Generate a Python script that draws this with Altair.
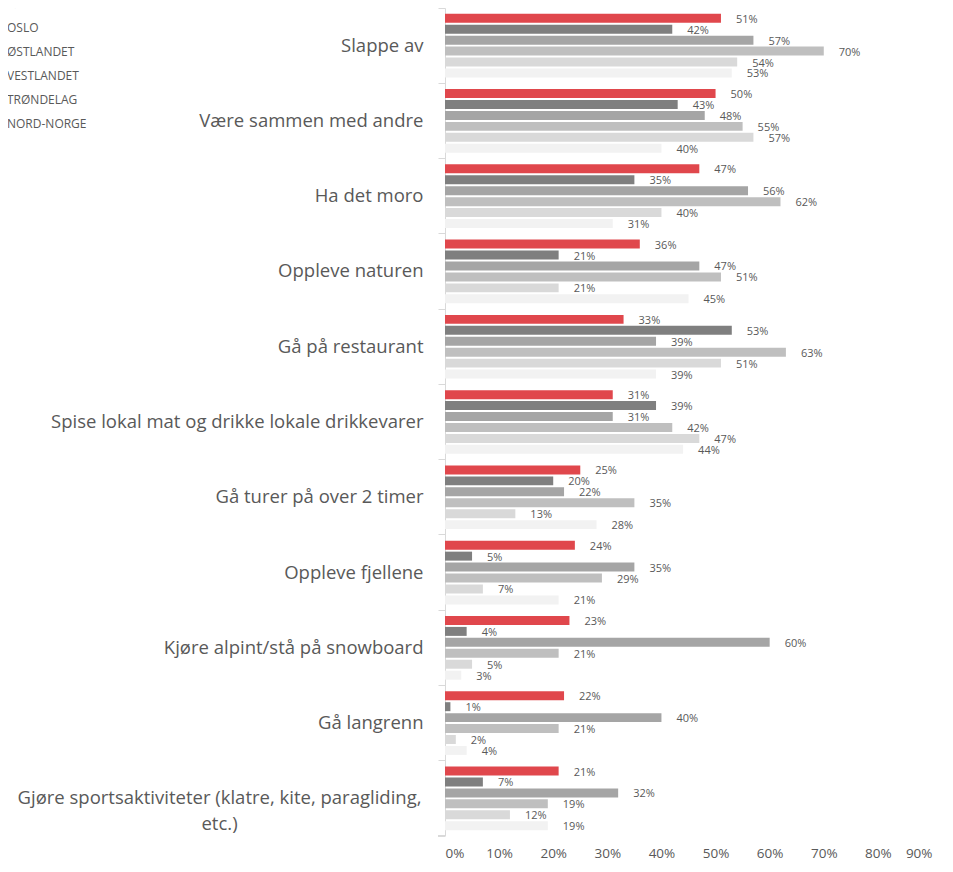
import altair as alt
import pandas as pd

categories = [
    "Slappe av",
    "Være sammen med andre",
    "Ha det moro",
    "Oppleve naturen",
    "Gå på restaurant",
    "Spise lokal mat og drikke lokale drikkevarer",
    "Gå turer på over 2 timer",
    "Oppleve fjellene",
    "Kjøre alpint/stå på snowboard",
    "Gå langrenn",
    "Gjøre sportsaktiviteter (klatre, kite, paragliding, etc.)",
]
series = ["SØRLANDET", "OSLO", "ØSTLANDET", "VESTLANDET", "TRØNDELAG", "NORD-NORGE"]
colors = ["#E0474C", "#7F7F7F", "#A5A5A5", "#BFBFBF", "#D9D9D9", "#F2F2F2"]

sorlandet = [51, 50, 47, 36, 33, 31, 25, 24, 23, 22, 21]
oslo = [42, 43, 35, 21, 53, 39, 20, 5, 4, 1, 7]
ostlandet = [57, 48, 56, 47, 39, 31, 22, 35, 60, 40, 32]
vestlandet = [70, 55, 62, 51, 63, 42, 35, 29, 21, 21, 19]
trondelag = [54, 57, 40, 21, 51, 47, 13, 7, 5, 2, 12]
nord_norge = [53, 40, 31, 45, 39, 44, 28, 21, 3, 4, 19]

values = [sorlandet, oslo, ostlandet, vestlandet, trondelag, nord_norge]
rows = []
for s, vals in zip(series, values):
    for c, v in zip(categories, vals):
        rows.append({"kategori": c, "region": s, "andel": v / 100})
df = pd.DataFrame(rows)

W = 487
H = 828
FONT = "Open Sans"
TXT = "#595959"
AXC = "#D9D9D9"
long_label = categories[-1]

y_enc = alt.Y(
    "kategori:N",
    sort=categories,
    scale=alt.Scale(paddingInner=0, paddingOuter=0),
    axis=alt.Axis(
        title=None,
        grid=False,
        domainColor=AXC,
        tickColor=AXC,
        tickSize=7,
        bandPosition=0,
        labelFont=FONT,
        labelFontSize=18.5,
        labelColor=TXT,
        labelLimit=600,
        labelLineHeight=26,
        labelExpr=(
            "datum.label == '" + long_label + "' ? "
            "['Gjøre sportsaktiviteter (klatre, kite, paragliding,', 'etc.)'] : datum.label"
        ),
        labelAlign={
            "condition": {"test": "datum.value == '" + long_label + "'", "value": "center"},
            "value": "right",
        },
        labelPadding={
            "condition": {"test": "datum.value == '" + long_label + "'", "value": 219},
            "value": 15,
        },
    ),
)
yoff_enc = alt.YOffset(
    "region:N",
    sort=series,
    scale=alt.Scale(paddingInner=0.18, paddingOuter=0.53),
)
x_enc = alt.X(
    "andel:Q",
    scale=alt.Scale(domain=[0, 0.9], nice=False),
    axis=alt.Axis(
        title=None,
        format=".0%",
        values=[0, 0.1, 0.2, 0.3, 0.4, 0.5, 0.6, 0.7, 0.8, 0.9],
        domain=False,
        ticks=False,
        grid=False,
        labelFont=FONT,
        labelFontSize=13.5,
        labelColor=TXT,
        labelPadding=10,
    ),
)

base = alt.Chart(df)

bars = base.mark_bar().encode(
    y=y_enc,
    yOffset=yoff_enc,
    x=x_enc,
    color=alt.Color(
        "region:N",
        sort=series,
        scale=alt.Scale(domain=series, range=colors),
        legend=alt.Legend(
            title=None,
            orient="none",
            legendX=-456,
            legendY=-10,
            direction="vertical",
            symbolType="square",
            symbolSize=64,
            symbolStrokeWidth=0,
            labelFont=FONT,
            labelFontSize=12,
            labelColor=TXT,
            labelOffset=6,
            rowPadding=12,
            padding=0,
        ),
    ),
)

labels = base.mark_text(
    align="left", baseline="middle", dx=15, dy=1.5, font=FONT, fontSize=11, color=TXT
).encode(
    y=alt.Y("kategori:N", sort=categories),
    yOffset=alt.YOffset("region:N", sort=series),
    x=alt.X("andel:Q"),
    text=alt.Text("andel:Q", format=".0%"),
)

bottom_tick = base.mark_rule(color=AXC, strokeWidth=1).encode(
    x=alt.value(-7), x2=alt.value(0), y=alt.value(H)
)

chart = (
    alt.layer(bars, labels, bottom_tick)
    .properties(
        width=W,
        height=H,
        autosize=alt.AutoSizeParams(type="none"),
        padding={"left": 437, "top": 0, "right": 8, "bottom": 27},
        background="white",
    )
    .configure_view(stroke=None)
)

chart.save("out.html", embed_options={"renderer": "svg", "actions": False})
